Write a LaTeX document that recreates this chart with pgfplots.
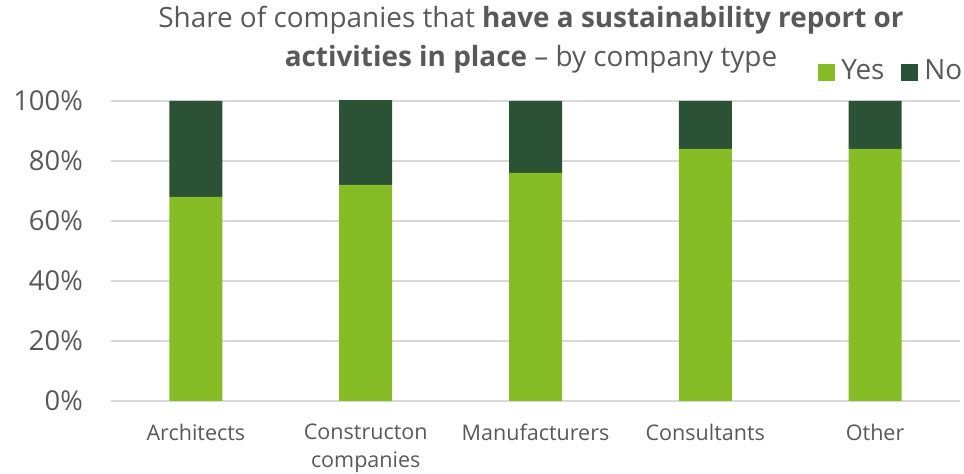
\documentclass[border=0pt]{standalone}
\usepackage{pgfplots}
\pgfplotsset{compat=1.18}
\usepackage{fontspec}
\setmainfont{Open Sans}
\definecolor{lgreen}{HTML}{86BC25}
\definecolor{dgreen}{HTML}{2B5234}
\definecolor{tgray}{HTML}{595959}
\definecolor{ggray}{HTML}{D9D9D9}
\begin{document}
\begin{tikzpicture}[x=1bp,y=1bp]
\useasboundingbox (0,0) rectangle (964,474);
\begin{axis}[
  at={(111bp,73bp)}, anchor=south west,
  scale only axis, width=849bp, height=300bp,
  ybar stacked, bar width=53bp,
  xmin=-0.5, xmax=4.5, ymin=0, ymax=100,
  axis line style={draw=none},
  major tick length=0pt,
  ymajorgrids, grid style={ggray, line width=1.5bp},
  ytick={0,20,40,60,80,100},
  yticklabels={0\%,20\%,40\%,60\%,80\%,100\%},
  yticklabel style={font=\fontsize{27.5}{27.5}\selectfont, text=tgray, inner sep=0pt, anchor=east, xshift=-28bp},
  xtick={0,1,2,3,4},
  xticklabels={Architects,{Constructon\\companies},Manufacturers,Consultants,Other},
  xticklabel style={font=\fontsize{21.6}{28}\selectfont, text=tgray, align=center, anchor=north, inner sep=0pt, yshift=-23bp},
  legend columns=2,
  legend style={draw=none, fill=none, at={(axis description cs:1,1)}, anchor=south east, xshift=9bp, yshift=18bp,
    font=\fontsize{28}{28}\selectfont, text=tgray, nodes={inner xsep=3.5bp, inner ysep=0pt},
    /tikz/every even column/.append style={column sep=13bp}},
  legend image code/.code={\fill[#1] (0bp,-11bp) rectangle (17bp,6bp); \path (0bp,0bp) (20bp,0bp);},
]
\addplot[fill=lgreen, draw=none] coordinates {(0,68) (1,72) (2,76) (3,84) (4,84)};
\addplot[fill=dgreen, draw=none] coordinates {(0,32) (1,28.3) (2,24) (3,16) (4,16)};
\legend{Yes,No}
\end{axis}
\node[anchor=base, font=\fontsize{28}{39}\selectfont, text=tgray] at (531,446) {Share of companies that \textbf{have a sustainability report or}};
\node[anchor=base, font=\fontsize{28}{39}\selectfont, text=tgray] at (531,407) {\textbf{activities in place} – by company type};
\end{tikzpicture}
\end{document}
